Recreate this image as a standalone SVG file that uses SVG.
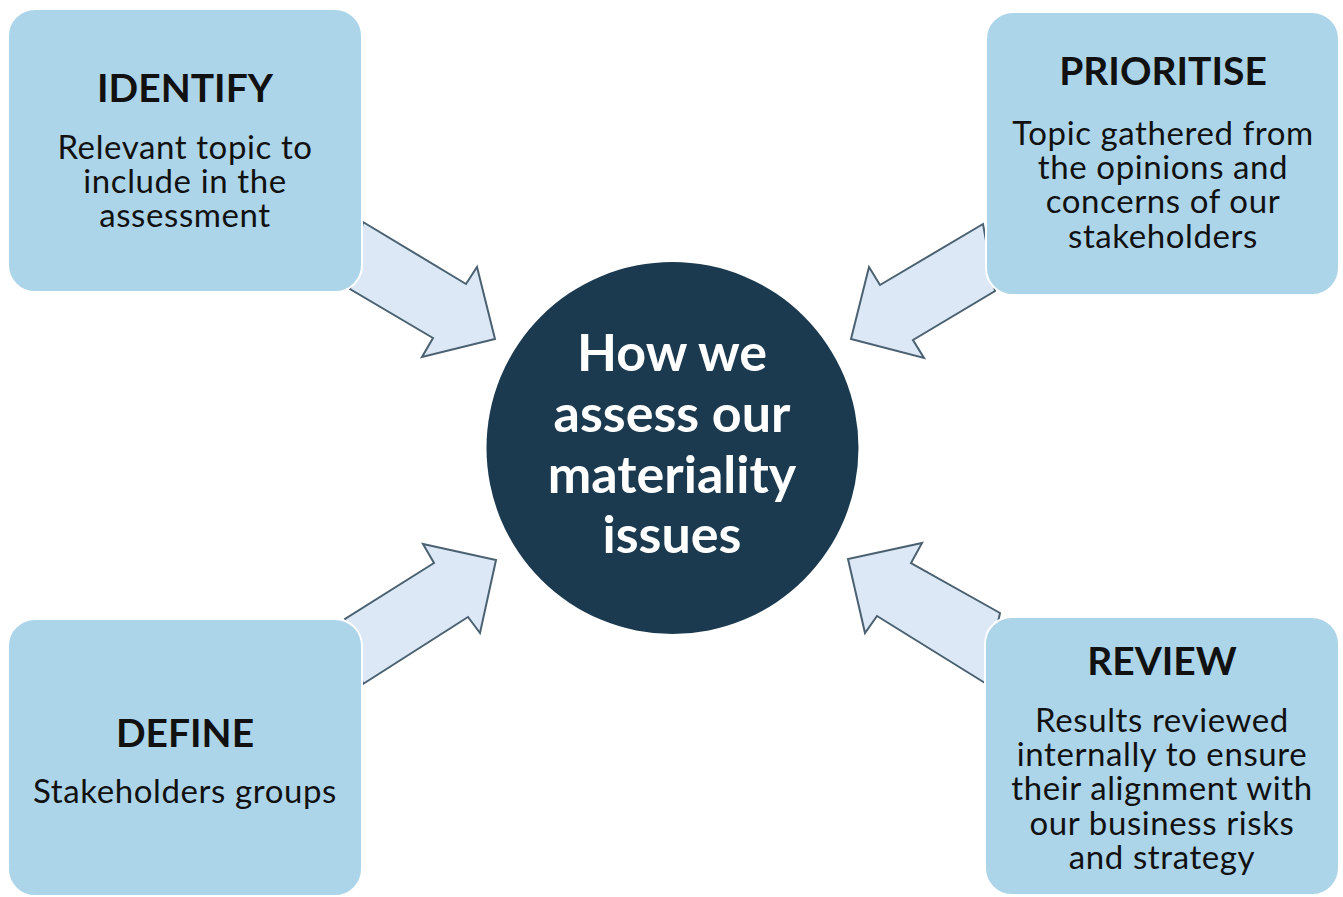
<svg xmlns="http://www.w3.org/2000/svg" width="1343" height="897" viewBox="0 0 1343 897">
<style>
.box{fill:#ADD5E9;stroke:#FFFFFF;stroke-width:2}
.arrow{fill:#DCE8F5;stroke:#4B6171;stroke-width:2;stroke-linejoin:miter}
.hub{fill:#1B3A4F}
.h{font-family:Lato,"Open Sans","Liberation Sans",sans-serif;font-weight:bold;font-size:39px;fill:#111;text-anchor:middle}
.b{font-family:Lato,"Open Sans","Liberation Sans",sans-serif;font-size:33px;letter-spacing:0.6px;fill:#111;text-anchor:middle}
.c{font-family:Lato,"Open Sans","Liberation Sans",sans-serif;font-weight:bold;font-size:52px;fill:#FFFFFF;text-anchor:middle}
</style>
<rect width="1343" height="897" fill="#FFFFFF"/>
<g id="connectors">
<polygon class="arrow" points="363,222 466,284 477,267 495,339 422,357 433,338 350,289"/>
<polygon class="arrow" points="983,224 880,285 869,267 851,339 924,358 913,340 995,291"/>
<polygon class="arrow" points="363,684 468,617 480,633 496,560 423,544 434,563 345,619"/>
<polygon class="arrow" points="1000,613 911,563 922,543 848,559 865,633 877,616 985,683"/>
</g>
<g id="identify">
<rect class="box" x="8" y="9" width="354" height="283" rx="27"/>
<text class="h" x="185" y="102">IDENTIFY</text>
<text class="b" x="185" y="159">Relevant topic to</text>
<text class="b" x="185" y="193">include in the</text>
<text class="b" x="185" y="227">assessment</text>
</g>
<g id="prioritise">
<rect class="box" x="986" y="12" width="353" height="283" rx="27"/>
<text class="h" x="1163" y="85">PRIORITISE</text>
<text class="b" x="1163" y="145">Topic gathered from</text>
<text class="b" x="1163" y="179">the opinions and</text>
<text class="b" x="1163" y="213">concerns of our</text>
<text class="b" x="1163" y="248">stakeholders</text>
</g>
<g id="define">
<rect class="box" x="8" y="619" width="354" height="277" rx="27"/>
<text class="h" x="185" y="747">DEFINE</text>
<text class="b" x="185" y="803">Stakeholders groups</text>
</g>
<g id="review">
<rect class="box" x="985" y="617" width="354" height="278" rx="27"/>
<text class="h" x="1162" y="675">REVIEW</text>
<text class="b" x="1162" y="732">Results reviewed</text>
<text class="b" x="1162" y="766">internally to ensure</text>
<text class="b" x="1162" y="800">their alignment with</text>
<text class="b" x="1162" y="835">our business risks</text>
<text class="b" x="1162" y="869">and strategy</text>
</g>
<g id="hub">
<circle class="hub" cx="672.5" cy="448" r="186"/>
<text class="c" x="672" y="371">How we</text>
<text class="c" x="672" y="432">assess our</text>
<text class="c" x="672" y="493">materiality</text>
<text class="c" x="672" y="553">issues</text>
</g>
</svg>
